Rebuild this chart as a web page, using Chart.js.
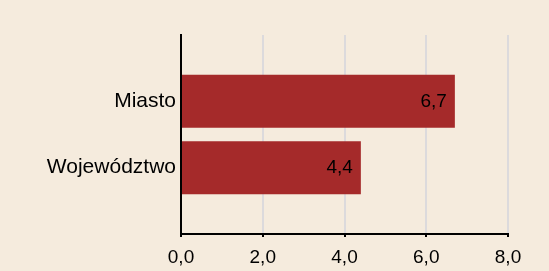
<!DOCTYPE html>
<html>
<head>
<meta charset="utf-8">
<script src="https://cdn.jsdelivr.net/npm/chart.js@4"></script>
<style>
  html, body { margin: 0; padding: 0; background: #f5ebdd; }
  canvas { display: block; }
</style>
</head>
<body>
<canvas id="myChart" width="549" height="271"></canvas>
<script>
var categories = ["Miasto", "Województwo"];
var values = [6.7, 4.4];
var xTicks = [0, 2, 4, 6, 8];

function fmt(v) {
  return Number(v).toFixed(1).replace(".", ",");
}

// bar value labels drawn inside the bar end
var valueLabels = {
  id: "valueLabels",
  afterDatasetsDraw: function (chart) {
    var ctx = chart.ctx;
    var meta = chart.getDatasetMeta(0);
    ctx.save();
    ctx.font = "19px 'Liberation Sans', Arial, sans-serif";
    ctx.fillStyle = "#000";
    ctx.textAlign = "right";
    ctx.textBaseline = "middle";
    meta.data.forEach(function (bar, i) {
      ctx.fillText(fmt(values[i]), bar.x - 8, bar.y);
    });
    ctx.restore();
  },
};

var ctx1 = document.getElementById("myChart").getContext("2d");
var myChart1 = new Chart(ctx1, {
  type: "bar",
  data: {
    datasets: [
      {
        data: values.map(function (v, i) { return { x: v, y: i }; }),
        backgroundColor: "#a52a2a",
        borderWidth: 0,
        categoryPercentage: 0.8,
        barPercentage: 1,
      },
    ],
  },
  options: {
    indexAxis: "y",
    responsive: false,
    animation: false,
    layout: { padding: { top: 35, left: 0, right: 41, bottom: 0 } },
    plugins: { legend: { display: false }, tooltip: { enabled: false } },
    scales: {
      x: {
        type: "linear",
        min: xTicks[0],
        max: xTicks[xTicks.length - 1],
        afterBuildTicks: function (scale) {
          scale.ticks = xTicks.map(function (v) { return { value: v }; });
        },
        grid: { color: "#dcdadc", lineWidth: 2, tickColor: "#000", tickLength: 3 },
        border: { display: true, color: "#000", width: 2 },
        ticks: {
          color: "#000",
          padding: 9,
          font: { family: "'Liberation Sans', Arial, sans-serif", size: 19 },
          callback: function (v) { return fmt(v); },
        },
        afterFit: function (scale) { scale.height = 37; },
      },
      y: {
        type: "linear",
        min: -1,
        max: 2,
        reverse: true,
        offset: false,
        grid: { display: false, drawTicks: false },
        border: { display: true, color: "#000", width: 2 },
        ticks: {
          stepSize: 1,
          color: "#000",
          padding: 5,
          font: { family: "'Liberation Sans', Arial, sans-serif", size: 21 },
          callback: function (v) { return categories[v] || ""; },
        },
        afterFit: function (scale) { scale.width = 181; },
      },
    },
  },
  plugins: [valueLabels],
});
</script>
</body>
</html>
